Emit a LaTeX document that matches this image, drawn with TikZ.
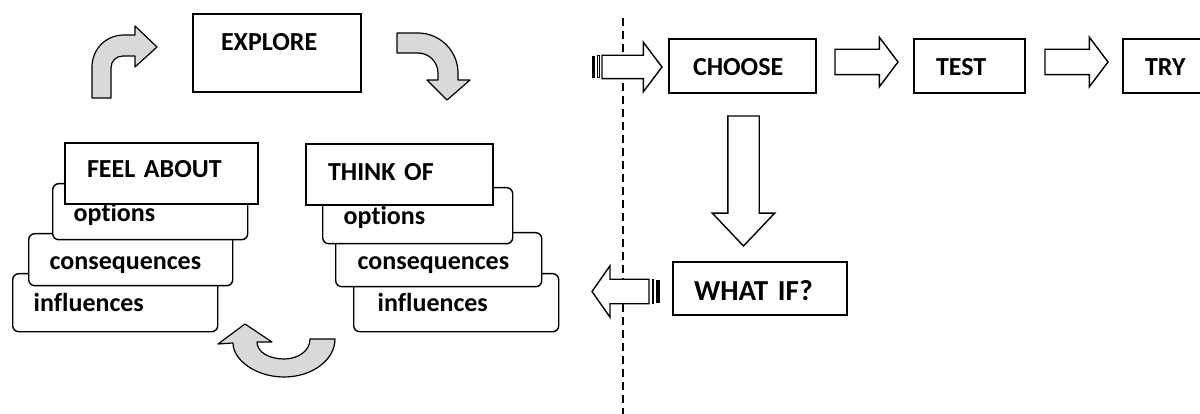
\documentclass[tikz,border=0pt]{standalone}
\usepackage{fontspec}
\setmainfont{Carlito}[Ligatures=NoCommon]
\usetikzlibrary{shapes.arrows,positioning}
\tikzset{
  stepbox/.style={draw, line width=2pt, fill=white, anchor=north west, inner ysep=0pt,
    align=left, font=\bfseries\fontsize{26}{30}\selectfont},
  factorbox/.style={stepbox, line width=1.4pt, rounded corners=6pt},
  pad/.style n args={4}{inner xsep=#1, text width=#2, text height=#3, text depth=#4},
  blockarrow/.style={single arrow, draw, line width=1.4pt, fill=white, inner sep=0pt,
    outer sep=0pt, anchor=tail, single arrow tip angle=106},
  bendarrow/.style={draw, line width=1.2pt, fill=black!15, line join=round},
  divider/.style={line width=1.5pt, dash pattern=on 8pt off 5pt}
}

\begin{document}
\begin{tikzpicture}[x=1pt,y=-1pt]
\useasboundingbox (0,0) rectangle (1200,414);

% left side: explore loop
\node (explore) [stepbox, pad={28pt}{112pt}{37pt}{41pt}] at (192,13) {EXPLORE};

\node (linf)  [factorbox, pad={21pt}{163pt}{38pt}{20pt}] at (12,273) {influences};
\node (lcons) [factorbox, pad={21pt}{162pt}{36pt}{16pt}] at (28,233) {consequences};
\node (lopt)  [factorbox, pad={21pt}{153pt}{38pt}{18pt}] at (52,183) {options};
\node (feel)  [stepbox, pad={22pt}{149pt}{35pt}{26pt}] at (64,142) {FEEL ABOUT};

\node (rinf)  [factorbox, pad={24pt}{157pt}{38pt}{20pt}] at (353,273) {influences};
\node (rcons) [factorbox, pad={22pt}{162pt}{37pt}{17pt}] at (335,232) {consequences};
\node (ropt)  [factorbox, pad={21pt}{148pt}{37pt}{19pt}] at (322,187) {options};
\node (think) [stepbox, pad={22pt}{143pt}{37pt}{24pt}] at (305,143) {THINK OF};

% bent arrows
\draw[bendarrow] (92,98) -- (92,67) .. controls (92,49) and (106,35) .. (124,35)
  -- (135,35) -- (135,26) -- (157,47) -- (135,67) -- (135,56) -- (123,56)
  .. controls (116,56) and (111,61) .. (111,68) -- (111,98) -- cycle;
\draw[bendarrow] (397,33) -- (418,33) .. controls (440,33) and (458,51) .. (458,73)
  -- (458,80) -- (470,80) -- (447,100) -- (427,80) -- (438,80) -- (438,73)
  .. controls (438,62) and (429,53) .. (418,53) -- (397,53) -- cycle;
\draw[bendarrow] (335,339) .. controls (335,360) and (312,377) .. (284,377)
  .. controls (256,377) and (233,360) .. (233,343) -- (218,344) -- (245,324)
  -- (272,342) -- (257,342) .. controls (257,352) and (269,359) .. (284,359)
  .. controls (298,359) and (310,351) .. (310,339) -- cycle;

% divider
\draw[divider] (623,18) -- (623,414);

% right side
\node (choose) [stepbox, pad={24pt}{99pt}{37pt}{17pt}] at (668,38) {CHOOSE};
\node (test)   [stepbox, pad={22pt}{67pt}{37pt}{17pt}, right=96pt of choose] {TEST};
\node (try)    [stepbox, pad={22pt}{45pt}{37pt}{17pt}, right=96pt of test] {TRY};
\node (whatif) [stepbox, pad={21pt}{132pt}{39pt}{14pt},
  font=\bfseries\fontsize{29}{33}\selectfont] at (672,261) {WHAT IF?};

\node (in)   [blockarrow, anchor=tip, minimum height=60pt, inner ysep=11pt,
  single arrow head extend=13pt] at ([xshift=-6pt,yshift=-1pt]choose.west) {};
\fill (in.tail) ++(-10pt,11pt) rectangle ++(3pt,-22pt);
\draw[line width=1pt] (in.tail) ++(-4.5pt,11pt) rectangle ++(1.5pt,-22pt);
\node (ct)   [blockarrow, minimum height=63pt, inner ysep=12pt,
  single arrow head extend=12pt] at ([xshift=18pt,yshift=4pt]choose.east) {};
\node (tt)   [blockarrow, minimum height=63pt, inner ysep=12pt,
  single arrow head extend=12pt] at ([xshift=19pt,yshift=4pt]test.east) {};
\node (cw)   [blockarrow, rotate=-90, minimum height=130pt, inner ysep=15pt,
  single arrow head extend=15.5pt, single arrow tip angle=87]
  at ([xshift=1pt,yshift=-22pt]choose.south) {};
\node (out)  [blockarrow, rotate=180, minimum height=57pt, inner ysep=11.5pt,
  single arrow head extend=13.5pt, single arrow tip angle=110]
  at ([xshift=-23pt,yshift=-3pt]whatif.west) {};
\draw[line width=1pt] (out.tail) ++(3pt,11.5pt) rectangle ++(1.5pt,-23pt);
\fill (out.tail) ++(7pt,11.5pt) rectangle ++(4pt,-23pt);
\end{tikzpicture}
\end{document}
